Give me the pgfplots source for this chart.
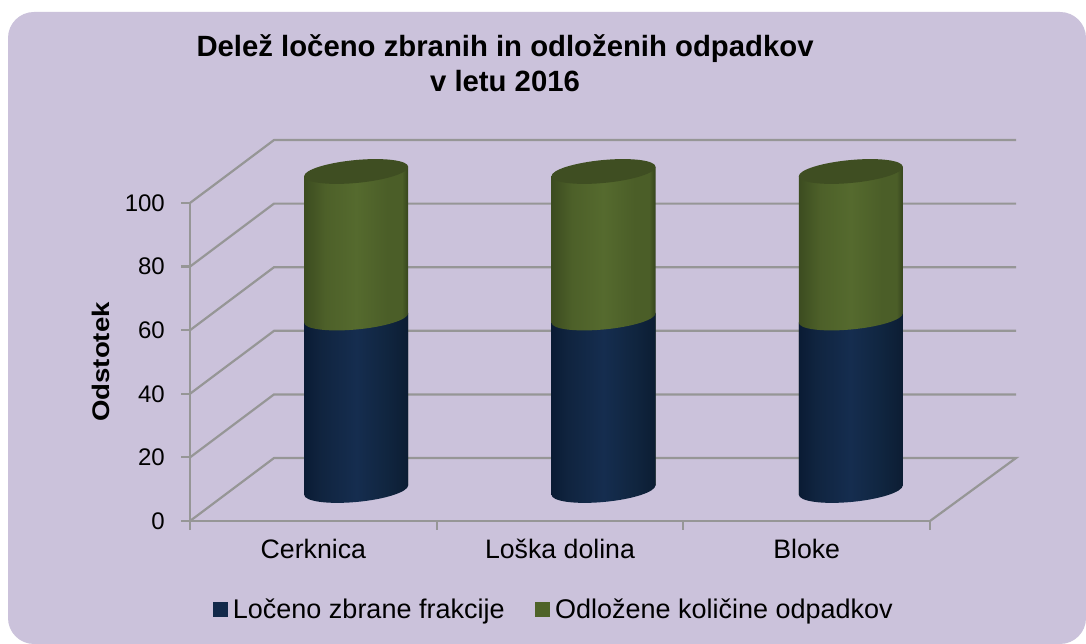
\documentclass[border=0pt]{standalone}
\usepackage{fontspec}
\setmainfont{Liberation Sans}
\usepackage{graphicx}
\usepackage{pgfplots}
\pgfplotsset{compat=1.18}
\definecolor{bg}{HTML}{CBC2DB}
\definecolor{gridc}{HTML}{969696}
\definecolor{capgreen}{HTML}{3F4E22}
\definecolor{legblue}{HTML}{12294A}
\definecolor{leggreen}{HTML}{4F6329}
\definecolor{g0}{HTML}{3C4C20}
\definecolor{g1}{HTML}{4D6029}
\definecolor{g2}{HTML}{556A2E}
\definecolor{g3}{HTML}{4B5E28}
\definecolor{g4}{HTML}{36451D}
\definecolor{b0}{HTML}{0A1B34}
\definecolor{b1}{HTML}{10243F}
\definecolor{b2}{HTML}{152D4F}
\definecolor{b3}{HTML}{10253F}
\definecolor{b4}{HTML}{0C1D33}
\pgfdeclarehorizontalshading{cylgreen}{100bp}{color(0bp)=(g0); color(25bp)=(g0); color(35bp)=(g1); color(50bp)=(g2); color(65bp)=(g3); color(72bp)=(g3); color(75bp)=(g4); color(100bp)=(g4)}
\pgfdeclarehorizontalshading{cylblue}{100bp}{color(0bp)=(b0); color(25bp)=(b0); color(33bp)=(b1); color(50bp)=(b2); color(65bp)=(b3); color(75bp)=(b4); color(100bp)=(b4)}
\pgfdeclareplotmark{captop}{\pgfsetfillcolor{capgreen}\pgfpathellipse{\pgfpointorigin}{\pgfqpoint{52pt}{4.68pt}}{\pgfqpoint{0pt}{11.5pt}}\pgfusepathqfill}
\pgfdeclareplotmark{capgreen}{\pgfpathellipse{\pgfpointorigin}{\pgfqpoint{52pt}{4.68pt}}{\pgfqpoint{0pt}{11.5pt}}\pgfshadepath{cylgreen}{0}\pgfusepath{discard}}
\pgfdeclareplotmark{capblue}{\pgfpathellipse{\pgfpointorigin}{\pgfqpoint{52pt}{4.68pt}}{\pgfqpoint{0pt}{12pt}}\pgfshadepath{cylblue}{0}\pgfusepath{discard}}
\tikzset{shear/.style={yshift={-0.09*#1},yslant=0.09}}
\newcommand{\fs}[1]{\fontsize{#1}{#1}\selectfont}
\begin{document}
\begin{tikzpicture}[x=1pt,y=1pt]
\path[use as bounding box,fill=white] (0,0) rectangle (1086,644);
\fill[bg,rounded corners=26pt] (8,0) rectangle (1086,632);
\begin{axis}[
  at={(190pt,123pt)},anchor=south west,scale only axis,
  width=740pt,height=318pt,
  xmin=0,xmax=3,ymin=0,ymax=100,clip=false,
  axis lines*=left,
  axis line style={-,gridc,line width=2.2pt},
  ytick={0,20,40,60,80,100},
  xtick={0.5,1.5,2.5},
  xticklabels={Cerknica,Loška dolina,Bloke},
  minor xtick={0,1,2,3},
  tick align=outside,
  ytick style={gridc,line width=2.2pt},
  major tick length=9pt,minor tick length=9pt,
  x tick style={draw=none},
  minor x tick style={gridc,line width=2.2pt,draw=gridc},
  /pgf/number format/assume math mode=true,
  yticklabel style={font=\fs{24},text=black,inner sep=0pt,xshift=-16pt},
  xticklabel style={font=\fs{26.7},text=black,yshift=-10pt,text height=18pt,text depth=0pt,inner sep=0pt},
  ylabel={\scalebox{1.15}[1]{\textbf{Odstotek}}},
  every axis y label/.style={at={(rel axis cs:0,0.5)},xshift=-89pt,rotate=90,anchor=center,font=\fs{24}},
  title={Delež ločeno zbranih in odloženih odpadkov\\v letu 2016},
  title style={at={(rel axis cs:0.4257,1.421)},anchor=center,align=center,font=\bfseries\fontsize{29.3}{35}\selectfont},
]
\addplot[gridc,line width=2.2pt] coordinates {(0,0)(0.3405,19.8)(3.3486,19.8)(3,0)};
\addplot[gridc,line width=2.2pt] coordinates {(0,20)(0.3405,39.8)(3.3486,39.8)};
\addplot[gridc,line width=2.2pt] coordinates {(0,40)(0.3405,59.8)(3.3486,59.8)};
\addplot[gridc,line width=2.2pt] coordinates {(0,60)(0.3405,79.8)(3.3486,79.8)};
\addplot[gridc,line width=2.2pt] coordinates {(0,80)(0.3405,99.8)(3.3486,99.8)};
\addplot[gridc,line width=2.2pt] coordinates {(0,100)(0.3405,119.8)(3.3486,119.8)};
\end{axis}
\begin{axis}[
  at={(232.5pt,154pt)},anchor=south west,scale only axis,
  width=742pt,height=318.5pt,
  xmin=0,xmax=3,ymin=0,ymax=100,clip=false,
  hide axis,
  ybar,bar width=104pt,
  legend columns=2,
  legend style={at={(0.4355,-0.374)},anchor=center,draw=none,fill=none,font=\fs{27},
    /tikz/every even column/.append style={column sep=25pt},
    inner sep=0pt,nodes={inner xsep=5.5pt,inner ysep=3pt}},
  legend cell align=left,
]
\addlegendimage{legend image code/.code={\fill[legblue] (0pt,-7pt) rectangle (14pt,7pt);}}
\addlegendentry{Ločeno zbrane frakcije}
\addlegendimage{legend image code/.code={\fill[leggreen] (0pt,-7pt) rectangle (14pt,7pt);}}
\addlegendentry{Odložene količine odpadkov}
% green section (cumulative top = 100), then blue section
\addplot[forget plot,ybar,bar shift=0pt,draw=none,shade,shading=cylgreen,shear=123.67] coordinates {(0.5,100)};
\addplot[forget plot,ybar,bar shift=0pt,draw=none,shade,shading=cylgreen,shear=371] coordinates {(1.5,100)};
\addplot[forget plot,ybar,bar shift=0pt,draw=none,shade,shading=cylgreen,shear=618.33] coordinates {(2.5,100)};
\addplot[forget plot,ybar,bar shift=0pt,draw=none,shade,shading=cylblue,shear=123.67] coordinates {(0.5,54)};
\addplot[forget plot,ybar,bar shift=0pt,draw=none,shade,shading=cylblue,shear=371] coordinates {(1.5,54)};
\addplot[forget plot,ybar,bar shift=0pt,draw=none,shade,shading=cylblue,shear=618.33] coordinates {(2.5,54)};
\addplot[forget plot,only marks,mark=capblue] coordinates {(0.5,0)(1.5,0)(2.5,0)};
\addplot[forget plot,only marks,mark=capgreen] coordinates {(0.5,54)(1.5,54)(2.5,54)};
\addplot[forget plot,only marks,mark=captop] coordinates {(0.5,100)(1.5,100)(2.5,100)};
\end{axis}
\end{tikzpicture}
\end{document}
